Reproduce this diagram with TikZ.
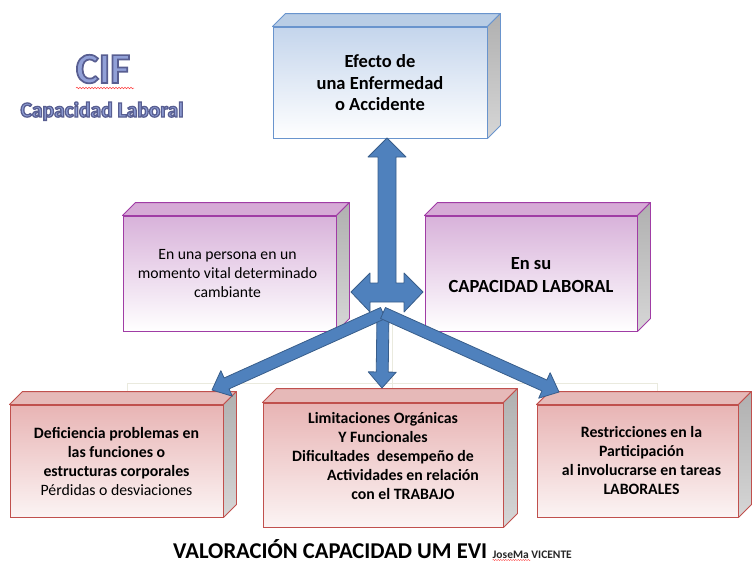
\documentclass[tikz,border=0pt]{standalone}
\usepackage{fontspec}
\setmainfont{Carlito}
\newfontfamily\wafontA[BoldFeatures={FakeBold=4}]{Carlito}
\newfontfamily\wafontB[BoldFeatures={FakeBold=6}]{Carlito}
\usetikzlibrary{positioning, calc, decorations.pathmorphing}

\definecolor{azulBorde}{RGB}{105,148,205}
\definecolor{azulFrente}{RGB}{196,213,236}
\definecolor{azulTapa}{RGB}{185,205,229}
\definecolor{moradoBorde}{RGB}{160,60,165}
\definecolor{moradoFrente}{RGB}{216,178,218}
\definecolor{moradoTapa}{RGB}{214,170,214}
\definecolor{rojoBorde}{RGB}{192,80,77}
\definecolor{rojoFrente}{RGB}{232,180,180}
\definecolor{rojoTapa}{RGB}{230,185,184}
\definecolor{flecha}{RGB}{79,129,189}
\definecolor{flechaBorde}{RGB}{56,93,138}
\definecolor{tenue}{RGB}{234,234,222}
\definecolor{waRelleno}{RGB}{145,160,215}

\tikzset{
  caja/.style={line width=0.9pt, inner sep=0pt},
  azul/.style={caja, draw=azulBorde, top color=azulFrente, bottom color=white},
  morado/.style={caja, draw=moradoBorde, top color=moradoFrente, bottom color=white},
  rojo/.style={caja, draw=rojoBorde, top color=rojoFrente, bottom color=rojoFrente!15},
  txt/.style={align=center, inner sep=0pt, font=\fontsize{15.7}{19}\selectfont},
  txtb/.style={txt, font=\fontsize{15.8}{19}\selectfont\bfseries},
  txtg/.style={txt, font=\fontsize{18.5}{21.5}\selectfont\bfseries},
  arr/.style={fill=flecha, draw=flechaBorde, line width=0.8pt, line join=round},
  linea tenue/.style={draw=tenue, line width=1pt}
}

% block arrow from #1 to the tip #2
\newcommand{\blockarrow}[2]{%
  \coordinate (h) at ($(#2)!16pt!(#1)$);
  \filldraw[arr] ($(#1)!6pt!90:(#2)$) -- ($(h)!6pt!90:(#2)$) -- ($(h)!14pt!90:(#2)$)
    -- (#2) -- ($(h)!14pt!-90:(#2)$) -- ($(h)!6pt!-90:(#2)$) -- ($(#1)!6pt!-90:(#2)$) -- cycle;
}

% word-art text: filled light, stroked dark
\newcommand{\contorno}[1]{{\color{waRelleno}\special{pdf:code 0.345 0.369 0.569 RG}#1}}

\begin{document}
\begin{tikzpicture}[x=1pt, y=-1pt]
\useasboundingbox (0,0) rectangle (752,563);

% faint lines behind
\draw[linea tenue] (127,398) -- (127,383) -- (657,383) -- (657,405);
\draw[linea tenue] (392,313) -- (392,388);

% title
\node[anchor=base, font=\fontsize{43}{48}\wafontA\bfseries] (cif) at (103,83) {\contorno{CIF}};
\node[anchor=base, font=\fontsize{21.5}{25}\wafontB\bfseries] (subtitulo) at (102,117) {\contorno{Capacidad Laboral}};
\draw[red!75, line width=0.5pt, decorate, decoration={snake, amplitude=0.8pt, segment length=3pt}] (76,88) -- (134,88);

% boxes
\node[azul, minimum width=214pt, minimum height=111pt] (efecto) at (380,82.5) {};
\node[morado, minimum width=213pt, minimum height=115pt] (persona) at (229.5,273.5) {};
\node[morado, minimum width=212pt, minimum height=115pt] (capacidad) at (531,273.5) {};
\node[rojo, minimum width=213pt, minimum height=112pt] (deficiencia) at (116.5,461) {};
\node[rojo, minimum width=240pt, minimum height=124pt] (limitaciones) at (383,465) {};
\node[rojo, minimum width=201pt, minimum height=112pt] (restricciones) at (637.5,461) {};

\foreach \b/\d/\t/\l in {efecto/13/azulTapa/azulBorde, persona/13/moradoTapa/moradoBorde,
    capacidad/13/moradoTapa/moradoBorde, deficiencia/13/rojoTapa/rojoBorde,
    limitaciones/14/rojoTapa/rojoBorde, restricciones/13/rojoTapa/rojoBorde}{
  \filldraw[fill=\t, draw=\l, line width=0.9pt, line join=round]
    (\b.north west) -- ++(\d,-\d) -- ([shift={(\d,-\d)}]\b.north east) -- (\b.north east) -- cycle;
  \shadedraw[top color=gray!62, bottom color=gray!32, draw=\l, line width=0.9pt, line join=round]
    (\b.north east) -- ++(\d,-\d) -- ([shift={(\d,-\d)}]\b.south east) -- (\b.south east) -- cycle;
}

% texts
\node[txtg] (efectotxt) at ([yshift=-0.5pt]efecto.center) {Efecto de\\una Enfermedad\\o Accidente};
\node[txt] (personatxt) at ([xshift=-2pt]persona.center) {En una persona en un\\momento vital determinado\\cambiante};
\node[txtg] (capacidadtxt) at ([yshift=-1.5pt]capacidad.center) {En su\\[1pt]CAPACIDAD LABORAL};
\node[txtb] (deficienciatxt) at (deficiencia) {Deficiencia problemas en\\las funciones o\\estructuras corporales\\{\mdseries P\'erdidas o desviaciones}};
\node[txtb] (limitacionestxt) at ([yshift=9pt]limitaciones.center) {Limitaciones Org\'anicas\\Y Funcionales\\Dificultades\ \ desempe\~no de\\\hspace*{40pt}Actividades en relaci\'on\\\hspace*{40pt}con el TRABAJO};
\node[txtb] (restriccionestxt) at ([xshift=4pt]restricciones.center) {Restricciones en la\\Participaci\'on\\al involucrarse en tareas\\LABORALES};

% arrows
\coordinate (hub) at (387,292);
\filldraw[arr, shift={(hub)}] (0,-154) -- (19,-135) -- (9,-135) -- (9,-9) -- (17,-9) -- (17,-19)
  -- (36,0) -- (17,20) -- (17,10) -- (-17,10) -- (-17,20) -- (-36,0) -- (-17,-19) -- (-17,-9)
  -- (-9,-9) -- (-9,-135) -- (-19,-135) -- cycle;

\coordinate (nudo) at (383,313);
\coordinate (puntaIzq) at (212,390);
\coordinate (puntaCen) at (382,388);
\coordinate (puntaDer) at (559,392);
\blockarrow{nudo}{puntaCen}
\blockarrow{nudo}{puntaIzq}
\blockarrow{nudo}{puntaDer}

% footer
\node[anchor=base west, inner sep=0pt, font=\fontsize{22.6}{26}\selectfont\bfseries] (valoracion) at (173,558) {VALORACI\'ON CAPACIDAD UM EVI};
\node[right=5pt of valoracion.base east, anchor=base west, inner sep=0pt, font=\fontsize{11.5}{14}\selectfont\bfseries, text=black!85] (autor) {JoseMa VICENTE};
\draw[red!70, line width=0.4pt, decorate, decoration={snake, amplitude=0.6pt, segment length=2.5pt}] ([yshift=-2pt]autor.base west) -- ++(38,0);
\end{tikzpicture}
\end{document}
